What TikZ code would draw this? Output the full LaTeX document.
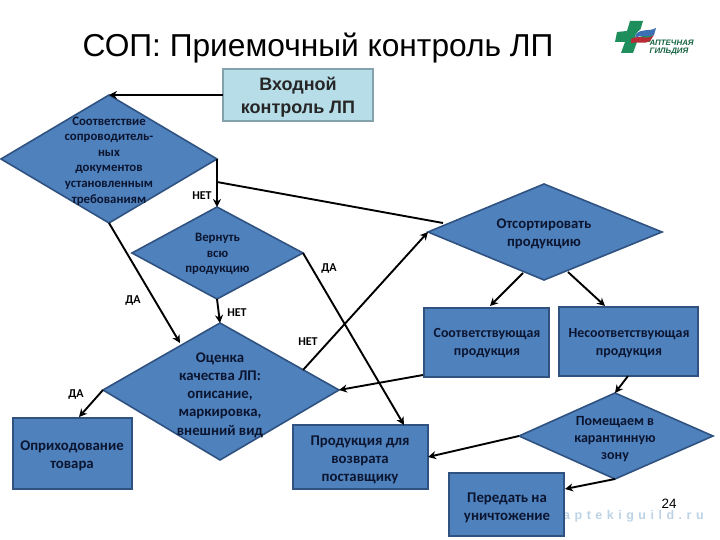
\documentclass[tikz,border=0pt]{standalone}
\usepackage{fontspec}
\setmainfont{Carlito}
\newfontfamily\arialf{Liberation Sans}
\usetikzlibrary{arrows.meta}
\definecolor{blueF}{HTML}{4F81BD}
\definecolor{blueD}{HTML}{2F5280}
\definecolor{tealF}{HTML}{B7DEE8}
\definecolor{tealD}{HTML}{84A2AC}
\definecolor{inkT}{HTML}{0B1530}
\definecolor{gGreen}{HTML}{1E8F5C}
\definecolor{gRed}{HTML}{B92B35}
\definecolor{gBlue}{HTML}{3C6FB4}
\definecolor{wmark}{HTML}{BCD3E6}
\tikzset{
  x=1pt,y=-1pt,
  shapeD/.style={draw=blueD,fill=blueF,line width=1.6pt,line join=miter},
  lbl/.style={font=\fontsize{12}{13}\selectfont\bfseries,text=black,inner sep=0pt},
  conn/.style={line width=1.9pt,-{Stealth[length=8pt,width=8pt]}},
  plainline/.style={line width=1.9pt},
  txtS/.style={font=\fontsize{12.8}{15.6}\selectfont\bfseries,text=inkT,align=center,inner sep=0pt},
  txtM/.style={font=\fontsize{13.9}{17.4}\selectfont\bfseries,text=inkT,align=center,inner sep=0pt},
  txtL/.style={font=\fontsize{14.8}{18.2}\selectfont\bfseries,text=inkT,align=center,inner sep=0pt}
}
\begin{document}
\begin{tikzpicture}
\useasboundingbox (0,0) rectangle (720,540);
\fill[white] (0,0) rectangle (720,540);
% title
\node[font=\arialf\fontsize{31.7}{36}\selectfont,anchor=center,inner sep=0pt] (title) at (318,48) {СОП: Приемочный контроль ЛП};
% logo
\fill[gGreen] (630,21) -- (643,21) -- (640,31) -- (655,29) -- (650,42) -- (637,42) -- (633,53) -- (621,53) -- (625,42) -- (615,42) -- (617,32) -- (627,31) -- cycle;
\fill[white] (636,34) .. controls (643,25) and (648,28) .. (657,25) -- (654,33) .. controls (647,35) and (642,34) .. (634,41) -- cycle;
\fill[gBlue] (636,34) .. controls (642,28) and (649,32) .. (656,28) -- (654,35) .. controls (648,38) and (642,34) .. (635,38) -- cycle;
\fill[gRed] (631,39) .. controls (640,34) and (647,41) .. (654,35) -- (650,41) .. controls (644,45) and (638,41) .. (631,43) -- cycle;
\node[font=\arialf\fontsize{7.9}{7.4}\selectfont\bfseries\itshape,text=gGreen!70!black,align=left,anchor=west,inner sep=0pt] (logotext) at (649.5,47.5) {АПТЕЧНАЯ\\ГИЛЬДИЯ};
% watermark and page number
\node[font=\arialf\fontsize{12.5}{14}\selectfont\bfseries,text=wmark,anchor=west,inner sep=0pt] (wm) at (563,516.5) {a\hspace{4.5pt}p\hspace{4.5pt}t\hspace{4.5pt}e\hspace{4.5pt}k\hspace{4.5pt}i\hspace{4.5pt}g\hspace{4.5pt}u\hspace{4.5pt}i\hspace{4.5pt}l\hspace{4.5pt}d\hspace{4.5pt}.\hspace{4.5pt}r\hspace{4.5pt}u};
\node[font=\arialf\fontsize{13.5}{14}\selectfont,anchor=center,inner sep=0pt] (pn) at (669,504) {24};
% shapes
\path[shapeD,draw=tealD,fill=tealF] (223,69) rectangle (373,121);
\coordinate (inL) at (223,95);
\path[shapeD] (1,159) -- (109,95) -- (217,159) -- (109,223) -- cycle;
\path[shapeD] (132,253) -- (217,207) -- (303,253) -- (217,299) -- cycle;
\path[shapeD] (428,232) -- (544,184) -- (662,232) -- (544,280) -- cycle;
\path[shapeD] (103,390) -- (220,323) -- (339,390) -- (220,460) -- cycle;
\path[shapeD] (519,436) -- (615,393) -- (713,436) -- (615,479) -- cycle;
\path[shapeD] (424,308) rectangle (549,377);
\path[shapeD] (559,307) rectangle (698,376);
\path[shapeD] (13,418) rectangle (132,489);
\path[shapeD] (293,425) rectangle (428,489);
\path[shapeD] (449,473) rectangle (564,536);
% named anchors
\coordinate (aT) at (109,95); \coordinate (aR) at (217,159); \coordinate (aB) at (109,223);
\coordinate (bT) at (217,207); \coordinate (bR) at (303,253); \coordinate (bB) at (217,299);
\coordinate (cL) at (428,232);
\coordinate (dT) at (220,323); \coordinate (dL) at (103,390); \coordinate (dR) at (339,390); \coordinate (dN) at (180,343); \coordinate (dE) at (303,370);
\coordinate (eT) at (615,393); \coordinate (eL) at (519,436); \coordinate (eB) at (615,479);
\coordinate (tapA) at (217,182); \coordinate (tapB) at (443,223);
% connectors
\draw[conn] (inL) -- (aT);
\draw[conn] (aR) -- (bT);
\draw[plainline] (tapA) -- (tapB);
\draw[conn] (aB) -- (dN);
\draw[conn] (bB) -- (dT);
\draw[conn] (bR) -- (404,425);
\draw[conn] (dE) -- (cL);
\draw[conn] (523,273) -- (490,306);
\draw[conn] (568,272) -- (605,306);
\draw[conn] (423,375) -- (dR);
\draw[conn] (628,376) -- (eT);
\draw[conn] (eL) -- (428,457);
\draw[conn] (eB) -- (565,489);
\draw[conn] (dL) -- (79,417);
% texts
\node[font=\arialf\fontsize{18}{23}\selectfont\bfseries,align=center,inner sep=0pt,text=black!85] (t0) at (298,97) {Входной\\контроль ЛП};
\node[txtS] (t1) at (109,161) {Соответствие\\сопроводитель-\\ных\\документов\\установленным\\требованиям};
\node[txtS] (t2) at (217.5,254) {Вернуть\\всю\\продукцию};
\node[txtL,font=\fontsize{14.7}{18}\selectfont\bfseries] (t3) at (544,234) {Отсортировать\\продукцию};
\node[txtM] (t4) at (487,343) {Соответствующая\\продукция};
\node[txtM] (t5) at (629,343) {Несоответствующая\\продукция};
\node[txtL] (t6) at (220,395) {Оценка\\качества ЛП:\\описание,\\маркировка,\\внешний вид};
\node[txtL] (t7) at (72,455.5) {Оприходование\\товара};
\node[txtL] (t8) at (360,460) {Продукция для\\возврата\\поставщику};
\node[txtM,font=\fontsize{14}{17}\selectfont\bfseries] (t9) at (615,439) {Помещаем в\\карантинную\\зону};
\node[txtL] (t10) at (507,508) {Передать на\\уничтожение};
% labels
\node[lbl] (l1) at (202,195.5) {НЕТ};
\node[lbl] (l2) at (133,300.5) {ДА};
\node[lbl] (l3) at (237,312.5) {НЕТ};
\node[lbl] (l4) at (329,268.5) {ДА};
\node[lbl] (l5) at (308,341.5) {НЕТ};
\node[lbl] (l6) at (76,394.5) {ДА};
\end{tikzpicture}
\end{document}
